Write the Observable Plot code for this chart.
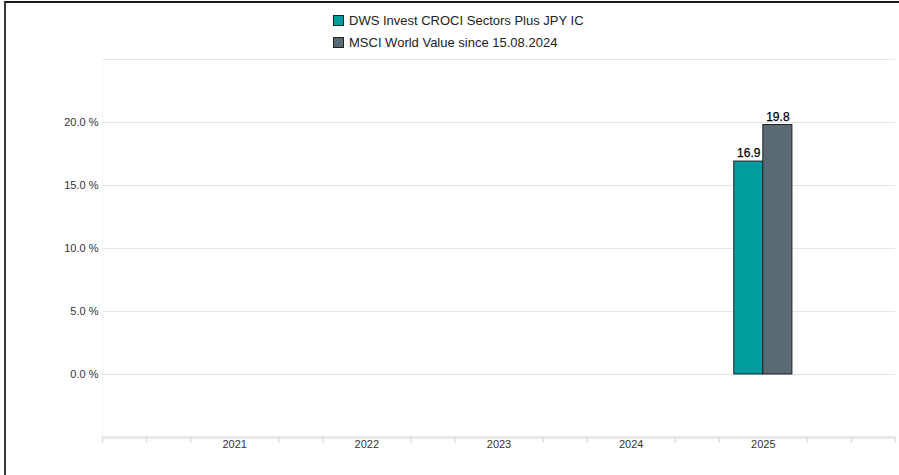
<!DOCTYPE html>
<html>
<head>
<meta charset="utf-8">
<script src="https://cdn.jsdelivr.net/npm/d3@7"></script>
<script src="https://cdn.jsdelivr.net/npm/@observablehq/plot@0.6"></script>
<style>
  html, body { margin: 0; padding: 0; background: #fff; }
  #wrap { position: relative; width: 899px; height: 475px; overflow: hidden; font-family: "Liberation Sans", Arial, Helvetica, sans-serif; }
  #frame { position: absolute; left: 4px; top: 1px; right: -10px; bottom: -10px; border-top: 2px solid #1a1a1a; border-left: 2px solid #3a3a3a; pointer-events: none; }
  #chart { position: absolute; left: 0; top: 0; }
  #legend { position: absolute; left: 333px; top: 9px; font-size: 13px; color: #222; }
  .item { display: flex; align-items: center; height: 22px; }
  .sw { width: 9px; height: 9px; border: 1px solid #222; margin-right: 5px; box-sizing: content-box; }
</style>
</head>
<body>
<div id="wrap">
  <div id="chart"></div>
  <div id="legend"></div>
  <div id="frame"></div>
</div>
<script>
const years = [2021, 2022, 2023, 2024, 2025];
const seriesNames = ["DWS Invest CROCI Sectors Plus JPY IC", "MSCI World Value since 15.08.2024"];
const fundValues = [null, null, null, null, 16.9];
const indexValues = [null, null, null, null, 19.8];
const colors = ["#009c9e", "#5a6a75"];
const yTicks = [0, 5, 10, 15, 20];
const gridLines = [0, 5, 10, 15, 20, 25];

const barW = 0.22;
const rows = [];
years.forEach((yr, i) => {
  if (fundValues[i] != null) rows.push({year: yr, s: 0, v: fundValues[i], x1: yr - barW, x2: yr});
  if (indexValues[i] != null) rows.push({year: yr, s: 1, v: indexValues[i], x1: yr, x2: yr + barW});
});

const xMin = years[0] - 1, xMax = years[years.length - 1] + 1;
const minorTicks = d3.range(0, (xMax - xMin) * 3 + 1).map(k => xMin + k / 3)
  .filter(t => !years.some(y => Math.abs(y - t) < 1e-6));

const chart = Plot.plot({
  width: 899,
  height: 475,
  marginLeft: 102,
  marginRight: 4,
  marginTop: 59,
  marginBottom: 38,
  style: {fontFamily: '"Liberation Sans", Arial, Helvetica, sans-serif', fontSize: "11px", background: "transparent"},
  x: {type: "linear", domain: [xMin, xMax]},
  y: {domain: [-5, 25]},
  marks: [
    Plot.ruleY(gridLines, {stroke: "#e6e6e6", strokeWidth: 1}),
    Plot.ruleX([xMin], {stroke: "#f6f6f6", strokeWidth: 1}),
    Plot.ruleY([-5], {stroke: "#e8e8e8", strokeWidth: 3}),
    Plot.axisX({ticks: minorTicks, tickFormat: () => "", tickSize: 6, stroke: "#e0e0e0", strokeWidth: 1.5, anchor: "bottom"}),
    Plot.axisX({ticks: years, tickFormat: d => String(d), tickSize: 0, tickPadding: 3, fill: "#333", fontSize: 11, anchor: "bottom", label: null}),
    Plot.axisY({ticks: yTicks, tickFormat: d => d.toFixed(1) + " %", tickSize: 0, tickPadding: 4, fill: "#333", fontSize: 11, label: null}),
    Plot.rect(rows, {x1: "x1", x2: "x2", y1: 0, y2: "v", fill: d => colors[d.s], stroke: "#222", strokeWidth: 1}),
    Plot.text(rows, {x: d => (d.x1 + d.x2) / 2, y: "v", text: d => d.v.toFixed(1), dy: -8, fill: "#000", stroke: "#000", strokeWidth: 0.25, fontSize: 12})
  ]
});
document.getElementById("chart").appendChild(chart);

const legend = document.getElementById("legend");
seriesNames.forEach((name, i) => {
  const it = document.createElement("div");
  it.className = "item";
  const sw = document.createElement("div");
  sw.className = "sw";
  sw.style.background = colors[i];
  const tx = document.createElement("span");
  tx.textContent = name;
  it.appendChild(sw);
  it.appendChild(tx);
  legend.appendChild(it);
});
</script>
</body>
</html>
